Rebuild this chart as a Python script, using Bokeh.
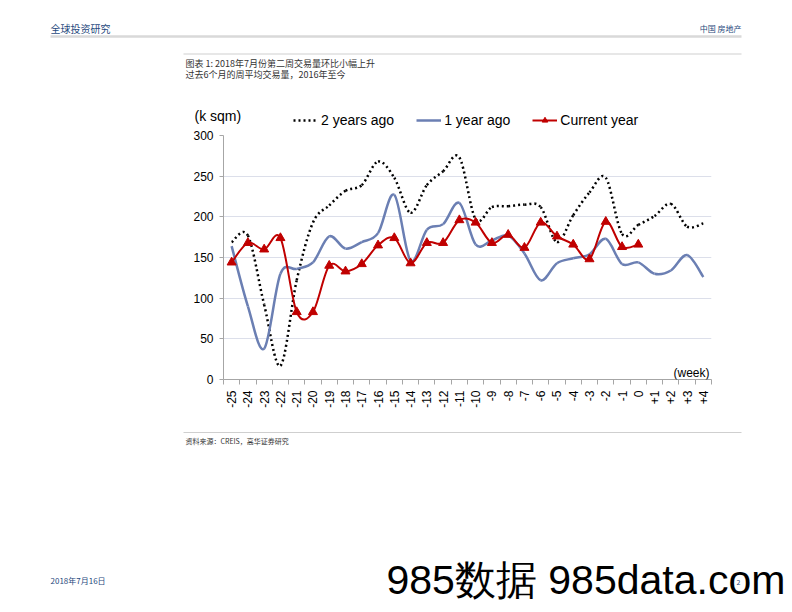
import numpy as np
from math import pi
from bokeh.plotting import figure
from bokeh.models import (Range1d, FixedTicker, Label, Legend, LegendItem,
                          ColumnDataSource)
from bokeh.core.properties import value
from bokeh.embed import file_html
from bokeh.resources import INLINE

weeks = ["-25", "-24", "-23", "-22", "-21", "-20", "-19", "-18", "-17", "-16",
         "-15", "-14", "-13", "-12", "-11", "-10", "-9", "-8", "-7", "-6",
         "-5", "-4", "-3", "-2", "-1", "0", "+1", "+2", "+3", "+4"]
two_years_ago = [169, 177, 92, 17, 122, 193, 214, 232, 239, 268,
                 248, 205, 239, 256, 273, 197, 212, 213, 215, 212,
                 169, 202, 230, 248, 179, 190, 201, 216, 188, 192]
one_year_ago = [164, 90, 38, 130, 136, 144, 176, 161, 169, 180,
                227, 146, 184, 191, 217, 166, 171, 177, 155, 122,
                143, 149, 154, 173, 142, 144, 130, 134, 153, 126]
current_year = [144, 168, 160, 174, 83, 83, 140, 133, 142, 165,
                174, 143, 168, 168, 196, 193, 168, 178, 162, 193,
                176, 166, 148, 194, 163, 166]
y_ticks = [0, 50, 100, 150, 200, 250, 300]
series_names = ["2 years ago", "1 year ago", "Current year"]

SANS = "Liberation Sans"
CJK = "Noto Sans CJK SC"
C_DOT, C_BLUE, C_RED = "black", "#6b7fb3", "#c00000"
NAVY = "#1f497d"
W = 792


def smooth_source(vals):
    """Bezier segments (Catmull-Rom control points) through the data points."""
    x = np.arange(len(vals)) + 0.5
    y = np.asarray(vals, dtype=float)
    n = len(vals)
    xp = np.concatenate([[x[0]], x, [x[-1]]])
    yp = np.concatenate([[y[0]], y, [y[-1]]])
    i = np.arange(n - 1)
    cx0 = x[i] + (xp[i + 2] - xp[i]) / 6
    cy0 = y[i] + (yp[i + 2] - yp[i]) / 6
    cx1 = x[i + 1] - (xp[i + 3] - xp[i + 1]) / 6
    cy1 = y[i + 1] - (yp[i + 3] - yp[i + 1]) / 6
    return ColumnDataSource(dict(x0=x[:-1], y0=y[:-1], x1=x[1:], y1=y[1:],
                                 cx0=cx0, cy0=cy0, cx1=cx1, cy1=cy1))


def page_fig(top, bottom):
    f = figure(width=W, height=bottom - top, output_backend="svg",
               toolbar_location=None, x_range=Range1d(0, W),
               y_range=Range1d(bottom, top), x_axis_type=None, y_axis_type=None,
               min_border=0, min_border_left=0, min_border_right=0,
               min_border_top=0, min_border_bottom=0)
    f.outline_line_color = None
    f.grid.visible = False
    return f


def txt(f, x, y, text, size, color="black", font=CJK, align="left"):
    f.text(x=[x], y=[y], text=[text], text_font=value(font),
           text_font_size=value(size), text_color=color, text_align=align,
           text_baseline="middle")


# ---------------- top: header, title, legend ----------------
top = page_fig(0, 128)
txt(top, 50, 28, "全球投资研究", "10px", NAVY)
txt(top, 741, 28, "中国 房地产", "8px", NAVY, align="right")
top.line(x=[50, 741], y=[36, 36], line_color="#d9d9d9", line_width=2.5)
top.line(x=[183, 741], y=[53.5, 53.5], line_color="#cfcfcf", line_width=1)
txt(top, 185, 63, "图表 1: 2018年7月份第二周交易量环比小幅上升", "9px", "#333333")
txt(top, 185, 74, "过去6个月的周平均交易量，2016年至今", "9px", "#333333")
txt(top, 194, 115, "(k sqm)", "14px", font=SANS)

# legend proxies (placed off the visible range; only used by the legend)
lp2 = top.line(x=[-50, -40], y=[-50, -50], line_color=C_DOT, line_width=2.5,
               line_dash="2 3")
lp1 = top.line(x=[-50, -40], y=[-50, -50], line_color=C_BLUE, line_width=2.5)
lp0 = top.line(x=[-50, -40], y=[-50, -50], line_color=C_RED, line_width=2)
lpm = top.scatter(x=[-50], y=[-50], marker="triangle", size=7,
                  fill_color=C_RED, line_color=C_RED)
legend = Legend(items=[LegendItem(label=series_names[0], renderers=[lp2]),
                       LegendItem(label=series_names[1], renderers=[lp1]),
                       LegendItem(label=series_names[2], renderers=[lp0, lpm])],
                orientation="horizontal", location=(293, 0),
                border_line_color=None, background_fill_alpha=0,
                padding=0, margin=0, spacing=22, glyph_width=25,
                glyph_height=14, label_height=14, label_standoff=3,
                label_text_font=SANS, label_text_font_size="14px",
                label_text_color="black")
top.add_layout(legend, "center")

# ---------------- chart ----------------
p = figure(width=W, height=292, output_backend="svg", toolbar_location=None,
           x_range=Range1d(0, len(weeks)), y_range=Range1d(0, 300),
           min_border_left=223, min_border_right=81, min_border_top=7,
           min_border_bottom=41)
p.outline_line_color = None

centers = [i + 0.5 for i in range(len(weeks))]
p.xaxis.ticker = FixedTicker(ticks=centers, minor_ticks=list(range(len(weeks) + 1)))
p.xaxis.major_label_overrides = {c: w for c, w in zip(centers, weeks)}
p.xaxis.major_label_orientation = pi / 2
p.xaxis.major_tick_line_color = None
p.xaxis.minor_tick_line_color = "#a6a6a6"
p.xaxis.minor_tick_in = 0
p.xaxis.minor_tick_out = 5
p.xaxis.axis_line_color = "#a6a6a6"
p.xaxis.major_label_text_font = SANS
p.xaxis.major_label_text_font_size = "12px"
p.xaxis.major_label_text_color = "black"
p.xaxis.major_label_standoff = 5

p.yaxis.ticker = FixedTicker(ticks=y_ticks)
p.yaxis.minor_tick_line_color = None
p.yaxis.major_tick_line_color = "#a6a6a6"
p.yaxis.major_tick_in = 0
p.yaxis.major_tick_out = 4
p.yaxis.axis_line_color = "#a6a6a6"
p.yaxis.major_label_text_font = SANS
p.yaxis.major_label_text_font_size = "12px"
p.yaxis.major_label_text_color = "black"
p.yaxis.major_label_standoff = 6

p.xgrid.grid_line_color = None
p.ygrid.ticker = FixedTicker(ticks=y_ticks)
p.ygrid.grid_line_color = "#dcdfea"
p.ygrid.grid_line_width = 1

bz = dict(x0="x0", y0="y0", x1="x1", y1="y1", cx0="cx0", cy0="cy0",
          cx1="cx1", cy1="cy1")
p.bezier(source=smooth_source(two_years_ago), line_color=C_DOT,
         line_width=2.5, line_dash="2 3", **bz)
p.bezier(source=smooth_source(one_year_ago), line_color=C_BLUE,
         line_width=2.5, **bz)
p.bezier(source=smooth_source(current_year), line_color=C_RED,
         line_width=2, **bz)
p.scatter(x=[i + 0.5 for i in range(len(current_year))], y=current_year,
          marker="triangle", size=9, fill_color=C_RED, line_color=C_RED)

p.add_layout(Label(x=486, y=7, x_units="screen", y_units="screen",
                   text="(week)", text_font=SANS, text_font_size="12px",
                   text_color="black", text_align="right",
                   text_baseline="middle"))

# ---------------- bottom: source, footer ----------------
bot = page_fig(420, 612)
bot.line(x=[183, 741], y=[432, 432], line_color="#cfcfcf", line_width=1)
txt(bot, 185, 440, "资料来源：CREIS，高华证券研究", "7px", "#333333")
txt(bot, 50, 580, "2018年7月16日", "8px", NAVY)
txt(bot, 736, 581, "2", "7px", NAVY)
bot.text(x=[386], y=[579], text=["985数据 985data.com"],
         text_font=value(SANS), text_font_size=value("41px"),
         text_color="black", text_align="left", text_baseline="middle")

open("out.html", "w").write(file_html([top, p, bot], INLINE))
